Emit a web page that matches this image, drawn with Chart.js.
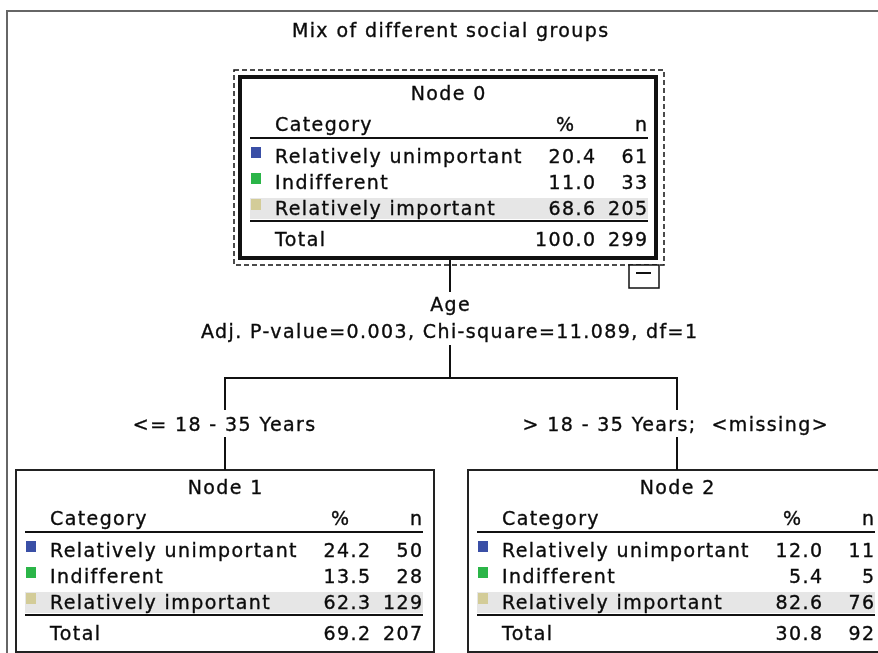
<!DOCTYPE html>
<html>
<head>
<meta charset="utf-8">
<title>Mix of different social groups</title>
<script src="https://cdn.jsdelivr.net/npm/chart.js@4.4.1/dist/chart.umd.min.js"></script>
<style>
  html, body { margin: 0; padding: 0; background: #fff; }
  canvas { display: block; }
</style>
</head>
<body>
<canvas id="treeCanvas" width="878" height="653"></canvas>
<script>
// Données de l'arbre
const chartTitle = 'Mix of different social groups';
const categories = ['Relatively unimportant', 'Indifferent', 'Relatively important'];
const nodeNames = ['Node 0', 'Node 1', 'Node 2'];
const nodePercent = [
    [20.4, 11.0, 68.6],
    [24.2, 13.5, 62.3],
    [12.0, 5.4, 82.6]
];
const nodeCount = [
    [61, 33, 205],
    [50, 28, 129],
    [11, 5, 76]
];
const totalPercent = [100.0, 69.2, 30.8];
const totalCount = [299, 207, 92];
const splitVariable = 'Age';
const splitStats = 'Adj. P-value=0.003, Chi-square=11.089, df=1';
const branchLabels = ['<= 18 - 35 Years', '> 18 - 35 Years;  <missing>'];

// styles
const catColors = ['#3a4fa6', '#2bb548', '#d3cc98'];
const FONT = '"DejaVu Sans", Verdana, sans-serif';
const FS = 19;
const LS = 1.4;
const DY = 1.5;

// mise en page des noeuds (coordonnées de l'axe, pas des données)
const nodeBox = [
    { left: 239, top: 76, width: 418, height: 183 },
    { left: 16, top: 470, width: 418, height: 182 },
    { left: 468, top: 470, width: 418, height: 182 }
];

function text(ctx, s, px, py, align) {
    ctx.font = FS + 'px ' + FONT;
    ctx.letterSpacing = LS + 'px';
    ctx.textAlign = align;
    ctx.textBaseline = 'middle';
    ctx.fillStyle = '#0a0a0a';
    ctx.strokeStyle = '#0a0a0a';
    ctx.lineWidth = 0.35;
    let xx = px;
    if (align === 'right') xx = px + LS;
    if (align === 'center') xx = px + LS / 2;
    ctx.fillText(s, xx, py + DY);
    ctx.strokeText(s, xx, py + DY);
}

function line(ctx, x1, y1, x2, y2, w, color) {
    ctx.beginPath();
    ctx.lineWidth = w;
    ctx.strokeStyle = color || '#111';
    ctx.moveTo(x1, y1);
    ctx.lineTo(x2, y2);
    ctx.stroke();
}

const treePlugin = {
    id: 'treePlugin',
    afterDraw(chart) {
        const ctx = chart.ctx;
        const xs = chart.scales.x, ys = chart.scales.y;
        const X = v => xs.getPixelForValue(v);
        const Y = v => ys.getPixelForValue(v);
        ctx.save();

        // cadre
        line(ctx, X(6), Y(11), X(878), Y(11), 2, '#666');
        line(ctx, X(7), Y(11), X(7), Y(653), 2, '#666');

        text(ctx, chartTitle, X(450), Y(31), 'center');

        nodeBox.forEach((b, i) => {
            const L = b.left, T = b.top;
            const cx = L + b.width / 2;
            if (i === 0) {
                // sélection en pointillés + bordure épaisse
                ctx.setLineDash([5, 3]);
                ctx.lineWidth = 1.5;
                ctx.strokeStyle = '#111';
                ctx.strokeRect(X(234), Y(70), X(664) - X(234), Y(265) - Y(70));
                ctx.setLineDash([]);
                ctx.fillStyle = '#fff';
                ctx.fillRect(X(L), Y(T), X(L + b.width) - X(L), Y(T + b.height) - Y(T));
                ctx.lineWidth = 4;
                ctx.strokeRect(X(L + 1), Y(T + 1), X(L + b.width - 1) - X(L + 1), Y(T + b.height - 1) - Y(T + 1));
                // bouton replier
                ctx.fillStyle = '#fff';
                ctx.fillRect(X(629), Y(265), X(659) - X(629), Y(288) - Y(265));
                ctx.lineWidth = 1.5;
                ctx.strokeRect(X(629), Y(265), X(659) - X(629), Y(288) - Y(265));
                line(ctx, X(636), Y(273), X(651), Y(273), 2);
            } else {
                ctx.lineWidth = 2;
                ctx.strokeStyle = '#222';
                ctx.strokeRect(X(L), Y(T), X(L + b.width) - X(L), Y(T + b.height) - Y(T));
            }
            const off = i === 0 ? 2 : 0;
            const cL = L + off;
            text(ctx, nodeNames[i], X(cx), Y(T + 18), 'center');
            text(ctx, 'Category', X(cL + 34), Y(T + 49), 'left');
            text(ctx, '%', X(cL + 324), Y(T + 49), 'center');
            text(ctx, 'n', X(cL + 406), Y(T + 49), 'right');
            line(ctx, X(cL + 9), Y(T + 62), X(cL + 407), Y(T + 62), 2);

            const rowY = [81, 107, 133];
            // fond gris de la catégorie modale
            ctx.fillStyle = '#e6e6e6';
            ctx.fillRect(X(cL + 9), Y(T + 122), X(cL + 407) - X(cL + 9), Y(T + 143) - Y(T + 122));
            categories.forEach((c, k) => {
                const ry = T + rowY[k];
                ctx.fillStyle = catColors[k];
                ctx.fillRect(X(cL + 10), Y(ry - 10), X(cL + 20) - X(cL + 10), Y(ry + 1) - Y(ry - 10));
                text(ctx, c, X(cL + 34), Y(ry), 'left');
                text(ctx, nodePercent[i][k].toFixed(1), X(cL + 354), Y(ry), 'right');
                text(ctx, String(nodeCount[i][k]), X(cL + 406), Y(ry), 'right');
            });
            line(ctx, X(cL + 9), Y(T + 145), X(cL + 407), Y(T + 145), 2);
            text(ctx, 'Total', X(cL + 34), Y(T + 164), 'left');
            text(ctx, totalPercent[i].toFixed(1), X(cL + 354), Y(T + 164), 'right');
            text(ctx, String(totalCount[i]), X(cL + 406), Y(T + 164), 'right');
        });

        // branches
        const c0 = 450, c1 = 225, c2 = 677;
        line(ctx, X(c0), Y(259), X(c0), Y(292), 2);
        text(ctx, splitVariable, X(c0), Y(305), 'center');
        text(ctx, splitStats, X(449), Y(332), 'center');
        line(ctx, X(c0), Y(345), X(c0), Y(378), 2);
        line(ctx, X(c1 - 1), Y(378), X(c2 + 1), Y(378), 2);
        [c1, c2].forEach((c, k) => {
            line(ctx, X(c), Y(378), X(c), Y(410), 2);
            text(ctx, branchLabels[k], X(k === 0 ? 224 : 675), Y(425), 'center');
            line(ctx, X(c), Y(437), X(c), Y(470), 2);
        });

        ctx.restore();
    }
};

new Chart(document.getElementById('treeCanvas'), {
    type: 'scatter',
    data: { datasets: [] },
    options: {
        responsive: false,
        animation: false,
        events: [],
        layout: { padding: 0 },
        plugins: {
            legend: { display: false },
            tooltip: { enabled: false }
        },
        scales: {
            x: { type: 'linear', min: 0, max: 878, display: false },
            y: { type: 'linear', min: 0, max: 653, reverse: true, display: false }
        }
    },
    plugins: [treePlugin]
});
</script>
</body>
</html>
